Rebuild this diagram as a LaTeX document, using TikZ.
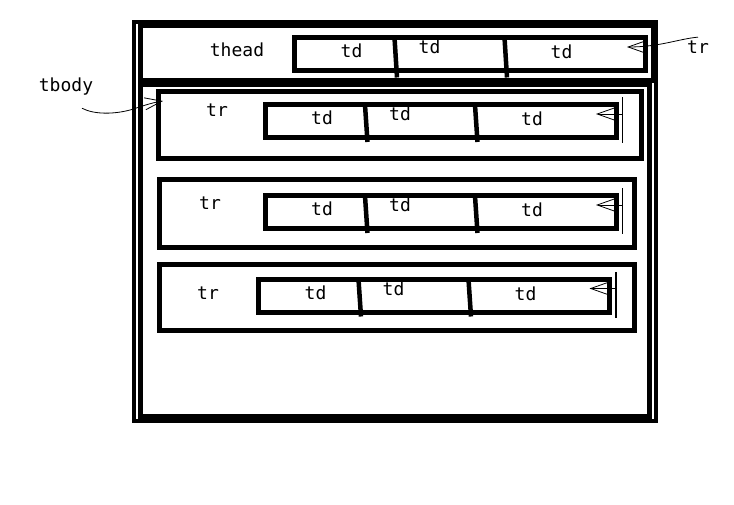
\documentclass[tikz,border=0pt]{standalone}
\usepackage{fontspec}
\usepackage{tikz}
\usetikzlibrary{arrows.meta, calc}
\newfontfamily\sketchfont{DejaVu Sans Mono}

\begin{document}
\begin{tikzpicture}[x=1pt, y=-1pt, font=\sketchfont\fontsize{18}{20}\selectfont,
    box/.style={draw, line width=5pt, inner sep=0pt},
    tdrow/.style={draw, line width=5pt, inner sep=0pt, minimum width=351,
                  minimum height=33},
    divider/.style={line width=4.5pt},
    pointer/.style={line width=0.8pt, -{Straight Barb[length=17pt, width=12pt]}}]
  \useasboundingbox (0,0) rectangle (734,505);

  \node[draw, line width=4pt, inner sep=0pt, minimum width=522.5,
        minimum height=399] (table) at (394.75,221.5) {};
  \node[box, minimum width=512.5, minimum height=54.5] (head) at (396.75,53.25) {};
  \node[box, minimum width=509, minimum height=332] (body) at (395,250.5) {};
  \node (headl) at (237,50) {thead};

  \foreach \i/\xpos/\ypos/\w/\h/\lx/\ly in {1/400/125.25/483/66.5/217/110,
      2/397/213.5/475/68/210/203, 3/397/297.5/475/66/208/293} {
    \node[box, minimum width=\w, minimum height=\h] (tr\i) at (\xpos,\ypos) {};
    \node (trl\i) at (\lx,\ly) {tr};
  }

  \foreach \i/\xpos/\ypos/\drop in {0/470/54/7, 1/440.5/121.5/4,
      2/440.5/212.5/4, 3/434/296/4} {
    \node[tdrow] (td\i) at (\xpos,\ypos) {};
    \draw[divider] ($(td\i)+(-75.5,-16.5)$) -- ($(td\i)+(-73,16.5+\drop)$);
    \draw[divider] ($(td\i)+(34.5,-16.5)$) -- ($(td\i)+(37,16.5+\drop)$);
    \node (td\i-a) at ($(td\i)+(-118.5,-3.5)$) {td};
    \node (td\i-b) at ($(td\i)+(-40.5,-7.5)$) {td};
    \node (td\i-c) at ($(td\i)+(91.5,-2.5)$) {td};
  }

  \foreach \i in {1,2,3} {
    \coordinate (bar\i) at ($(td\i)+(182,-7.5)$);
    \coordinate (tip\i) at ($(td\i)+(155.5,-7.5)$);
    \draw[line width=1.5pt] ($(td\i)+(182,-24)$) -- ($(td\i)+(182,22)$);
    \draw[pointer] (bar\i) -- (tip\i);
  }

  \node (trA) at (698,47) {tr};
  \coordinate (headtip) at ($(td0)+(157,-7)$);
  \draw[pointer] (trA.north) .. controls (678,39) and (660,47) .. (headtip);

  \node (bodyl) at (66,87) {tbody};
  \coordinate (bodytip) at (163,101);
  \draw[pointer] (bodyl.south) ++(16,9) .. controls (95,115) and (115,114) .. (130,110)
    .. controls (140,107) and (150,103) .. (bodytip);
\end{tikzpicture}
\end{document}
